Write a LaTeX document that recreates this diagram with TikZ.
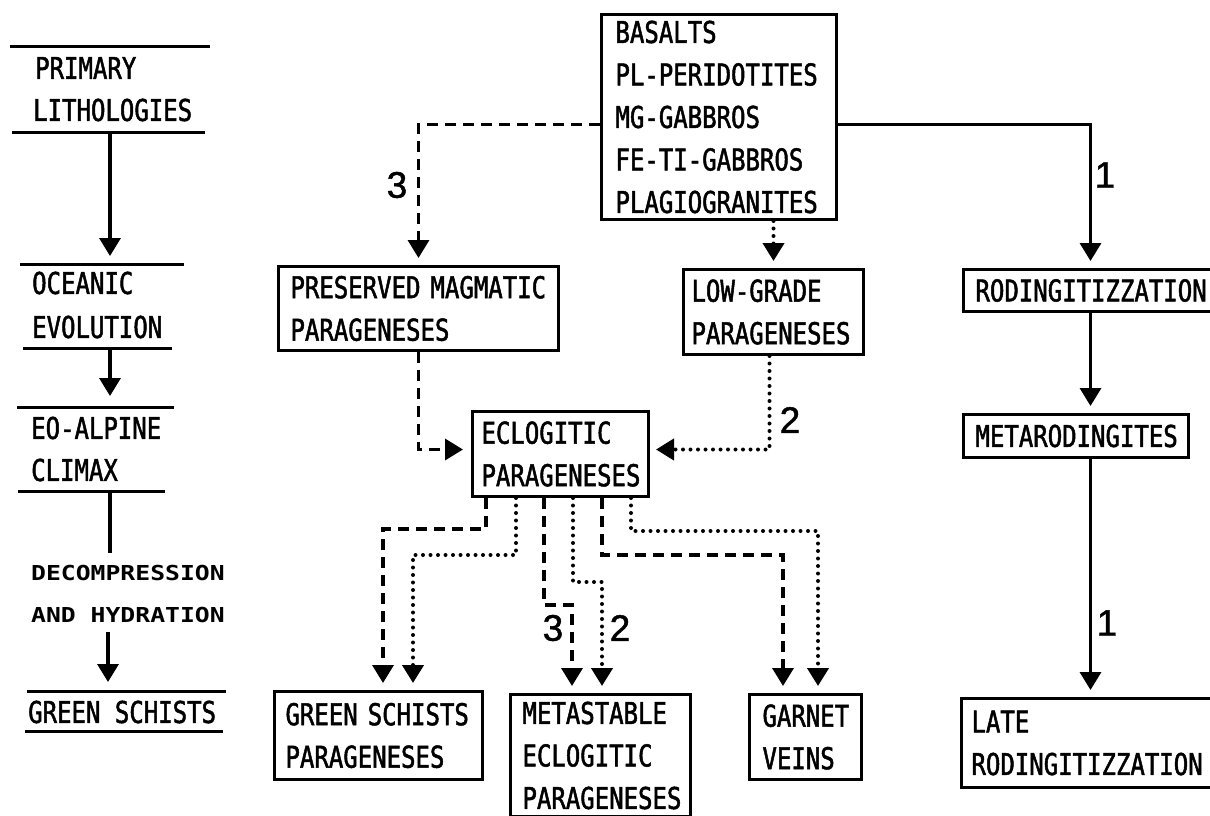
\documentclass[tikz,border=0pt]{standalone}
\usepackage{fontspec}
\setmainfont{DejaVu Sans Mono}[FakeStretch=0.8,FakeBold=1.6]
\newfontfamily\widefont{DejaVu Sans Mono}[FakeStretch=1.2]
\newfontfamily\numfont{Liberation Sans}[FakeBold=1.2]
\usetikzlibrary{arrows.meta}
\begin{document}
\begin{tikzpicture}[x=1pt,y=-1pt,
  txt/.style={font=\fontsize{30}{42.5}\selectfont, inner sep=0pt, anchor=west},
  wtxt/.style={font=\widefont\bfseries\fontsize{20.6}{20.6}\selectfont, inner sep=0pt, anchor=west},
  bx/.style={draw, line width=3pt, inner xsep=#1, inner ysep=0pt, align=left,
    anchor=north west, font=\fontsize{30}{42.5}\selectfont},
  con/.style={line width=3.4pt},
  dsh/.style={con, dash pattern=on 11pt off 7pt},
  dot/.style={con, line width=4pt, line cap=round, dash pattern=on 0pt off 7.5pt},
  arr/.style={-{Triangle[width=21pt,length=18pt]}, shorten >=7pt},
  num/.style={font=\numfont\fontsize{37}{37}\selectfont, inner sep=0pt},
  rule/.style={line width=3pt}
]
\useasboundingbox (0,0) rectangle (1210,816);
\fill[white] (0,0) rectangle (1210,816);

% ---------- left column ----------
\draw[rule] (10,47) -- (210,47);
\node[txt] (prim) at (35,68) {PRIMARY};
\node[txt] (lith) at (33,110) {LITHOLOGIES};
\draw[rule] (12,132) -- (205,132);
\coordinate (l1a) at (110,132);
\coordinate (l1b) at (110,256);
\draw[con,arr,shorten >=0pt] (l1a) -- (l1b);
\draw[rule] (20,264) -- (184,264);
\node[txt] (ocea) at (32,283) {OCEANIC};
\node[txt] (evol) at (32,327) {EVOLUTION};
\draw[rule] (23,348) -- (172,348);
\coordinate (l2a) at (110,348);
\coordinate (l2b) at (110,396);
\draw[con,arr,shorten >=0pt] (l2a) -- (l2b);
\draw[rule] (17,407) -- (174,407);
\node[txt] (eoal) at (31,428) {EO-ALPINE};
\node[txt] (clim) at (31,470) {CLIMAX};
\draw[rule] (18,491) -- (165,491);
\coordinate (l3a) at (110,491);
\coordinate (l3b) at (110,553);
\draw[con] (l3a) -- (l3b);
\node[wtxt] (deco) at (31,573) {DECOMPRESSION};
\node[wtxt] (hydr) at (31,615) {AND HYDRATION};
\coordinate (l4a) at (108,632);
\coordinate (l4b) at (108,682);
\draw[con,arr,shorten >=0pt] (l4a) -- (l4b);
\draw[rule] (27,691) -- (226,691);
\node[txt] (grsc) at (28,712) {GREEN~SCHISTS};
\draw[rule] (25,731) -- (223,731);

% ---------- boxes ----------
\node[bx=14pt, text width=207pt, minimum height=205pt] (top) at (600,13)
  {BASALTS\\PL-PERIDOTITES\\MG-GABBROS\\FE-TI-GABBROS\\PLAGIOGRANITES};
\node[bx=12pt, text width=256pt, minimum height=84pt] (pres) at (277,265)
  {PRESERVED~MAGMATIC\\PARAGENESES};
\node[bx=8pt, text width=164pt, minimum height=85pt] (low) at (682,268)
  {LOW-GRADE\\PARAGENESES};
\node[bx=12pt, text width=230pt, minimum height=42pt] (rod) at (962,268)
  {RODINGITIZZATION};
\node[bx=9pt, text width=158pt, minimum height=85pt] (ecl) at (471,410)
  {ECLOGITIC\\PARAGENESES};
\node[bx=12pt, text width=201pt, minimum height=43pt] (mrod) at (962,413)
  {METARODINGITES};
\node[bx=11pt, text width=186pt, minimum height=88pt] (gs) at (273,690)
  {GREEN~SCHISTS\\PARAGENESES};
\node[bx=12pt, text width=156pt, minimum height=122pt] (ms) at (509,693)
  {METASTABLE\\ECLOGITIC\\PARAGENESES};
\node[bx=13pt, text width=86pt, minimum height=85pt] (gv) at (748,693)
  {GARNET\\VEINS};
\node[bx=10pt, text width=240pt, minimum height=89pt] (late) at (960,697)
  {LATE\\RODINGITIZZATION};

% ---------- connectors ----------
\draw[dsh,arr] ([yshift=-7.5pt]top.west) -| (pres.north);
\draw[con,arr] ([yshift=-7.5pt]top.east) -| (rod.north);
\draw[dot,arr] (low.north |- top.south) -- (low.north);
\draw[con,arr] (rod.south) -- (rod.south |- mrod.north);
\draw[con,arr] (rod.south |- mrod.south) -- (rod.south |- late.north);
\draw[dsh,arr,shorten >=8pt] (pres.south) |- ([yshift=4.5pt]ecl.west);
\draw[dot,arr,shorten >=6pt] ([xshift=-4pt]low.south) |- ([yshift=4.5pt]ecl.east);

\draw[dsh,arr] ([xshift=15pt]ecl.south west) -- ++(0,31) -| ([xshift=110pt]gs.north west);
\draw[dot,arr] ([xshift=45pt]ecl.south west) -- ++(0,57) -| ([xshift=140pt]gs.north west);
\draw[dsh,arr] ([xshift=73pt]ecl.south west) -- ++(0,107) -| ([xshift=63pt]ms.north west);
\draw[dot,arr] ([xshift=102pt]ecl.south west) -- ++(0,84) -| ([xshift=93pt]ms.north west);
\draw[dsh,arr] ([xshift=131pt]ecl.south west) -- ++(0,57) -| ([xshift=35pt]gv.north west);
\draw[dot,arr] ([xshift=160pt]ecl.south west) -- ++(0,33) -| ([xshift=70pt]gv.north west);

% ---------- labels ----------
\node[num] (n3a) at (397,185) {3};
\node[num] (n1a) at (1105,175) {1};
\node[num] (n2a) at (790,420) {2};
\node[num] (n3b) at (553,628) {3};
\node[num] (n2b) at (620,628) {2};
\node[num] (n1b) at (1107,623) {1};
\end{tikzpicture}
\end{document}
